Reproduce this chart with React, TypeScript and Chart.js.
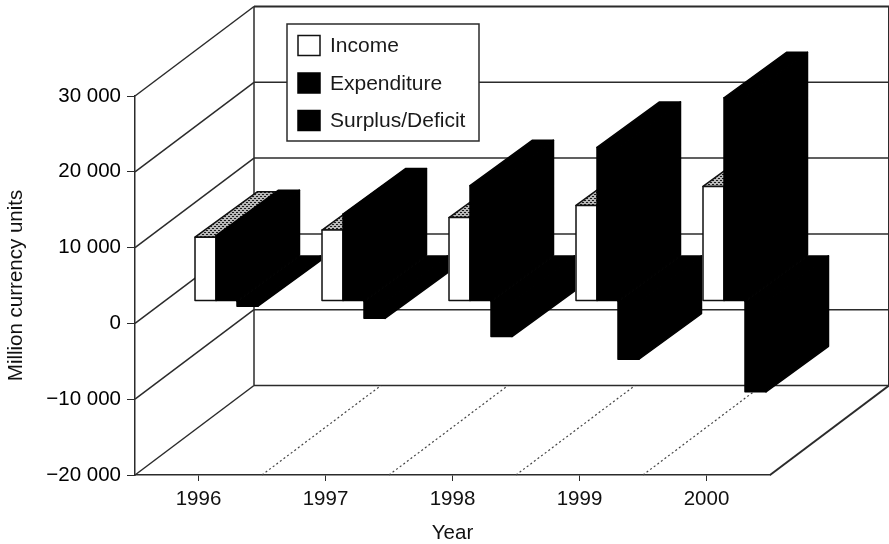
import { useEffect, useRef } from "react";
import { Chart, registerables } from "chart.js";

Chart.register(...registerables);

const years = ["1996", "1997", "1998", "1999", "2000"];
const income = [8400, 9350, 11000, 12600, 15100];
const expenditure = [8600, 11450, 15200, 20250, 26800];
const surplus = [-700, -2300, -4700, -7700, -12000];

const FONT = '"Liberation Sans", Arial, sans-serif';
const INK = "#2b2b2b";

// Perspective offsets of the box walls and of the bars standing inside the box.
const WALL_DEPTH = { x: 119, y: -89.5 };
const BAR_SHIFT = { x: 28, y: -22.5 };
const BAR_DEPTH = { x: 62.5, y: -45.5 };

function stipple(): CanvasPattern | string {
  const tile = document.createElement("canvas");
  tile.width = 4;
  tile.height = 4;
  const c = tile.getContext("2d");
  if (!c) return "#777";
  c.fillStyle = "#b8b8b8";
  c.fillRect(0, 0, 4, 4);
  c.fillStyle = "#1c1c1c";
  c.fillRect(0, 0, 2, 1);
  c.fillRect(2, 2, 2, 1);
  return c.createPattern(tile, "repeat") ?? "#777";
}

function polygon(ctx: CanvasRenderingContext2D, pts: number[][], fill: any, stroke?: string, width = 1.5) {
  ctx.beginPath();
  pts.forEach(([x, y], i) => (i ? ctx.lineTo(x, y) : ctx.moveTo(x, y)));
  ctx.closePath();
  ctx.fillStyle = fill;
  ctx.fill();
  if (stroke) {
    ctx.strokeStyle = stroke;
    ctx.lineWidth = width;
    ctx.stroke();
  }
}

function segment(ctx: CanvasRenderingContext2D, x1: number, y1: number, x2: number, y2: number, width = 1.5) {
  ctx.lineWidth = width;
  ctx.beginPath();
  ctx.moveTo(x1, y1);
  ctx.lineTo(x2, y2);
  ctx.stroke();
}

// Back wall, side wall and floor of the box, with gridlines taken from the scales.
const boxWalls = {
  id: "boxWalls",
  beforeDatasetsDraw(chart: any) {
    const { ctx, chartArea: a, scales } = chart;
    const d = WALL_DEPTH;
    ctx.save();
    ctx.strokeStyle = INK;
    ctx.lineCap = "butt";
    segment(ctx, a.left + d.x, a.top + d.y, a.left + d.x, a.bottom + d.y);
    segment(ctx, a.right + d.x - 0.5, a.top + d.y, a.right + d.x - 0.5, a.bottom + d.y, 1);
    segment(ctx, a.right, a.bottom, a.right + d.x, a.bottom + d.y, 2);
    scales.y.ticks.forEach((t: any) => {
      const y = scales.y.getPixelForValue(t.value);
      segment(ctx, a.left, y, a.left + d.x, y + d.y);
      const top = t.value === scales.y.max;
      segment(ctx, a.left + d.x, y + d.y, a.right + d.x, y + d.y, top ? 2 : 1.5);
    });
    ctx.setLineDash([2, 2.5]);
    ctx.strokeStyle = "#444";
    for (let i = 0; i < years.length - 1; i++) {
      const x = (scales.x.getPixelForValue(i) + scales.x.getPixelForValue(i + 1)) / 2;
      segment(ctx, x, a.bottom, x + d.x, a.bottom + d.y, 1.2);
    }
    ctx.restore();
  },
};

// Extrudes each bar rectangle computed by the bar controller into a solid box.
const extrudedBars = {
  id: "extrudedBars",
  beforeDatasetDraw() {
    return false;
  },
  afterDatasetsDraw(chart: any) {
    const { ctx } = chart;
    const pattern = stipple();
    const d = BAR_DEPTH;
    ctx.save();
    ctx.lineJoin = "round";
    years.forEach((_, i) => {
      chart.data.datasets.forEach((set: any, s: number) => {
        const el = chart.getDatasetMeta(s).data[i];
        const l = el.x - el.width / 2 + BAR_SHIFT.x;
        const r = el.x + el.width / 2 + BAR_SHIFT.x;
        const t = Math.min(el.y, el.base) + BAR_SHIFT.y;
        const b = Math.max(el.y, el.base) + BAR_SHIFT.y;
        // The stroke on the solid faces also closes the seams between them.
        const w = 1.5;
        polygon(ctx, [[r, t], [r + d.x, t + d.y], [r + d.x, b + d.y], [r, b]], "#000", set.borderColor, w);
        polygon(ctx, [[l, t], [l + d.x, t + d.y], [r + d.x, t + d.y], [r, t]], s === 0 ? pattern : "#000", set.borderColor, w);
        polygon(ctx, [[l, t], [r, t], [r, b], [l, b]], set.backgroundColor, set.borderColor, w);
      });
    });
    ctx.restore();
  },
};

// Key panel on the back wall, listing the datasets.
const keyPanel = {
  id: "keyPanel",
  afterDraw(chart: any) {
    const { ctx } = chart;
    ctx.save();
    polygon(ctx, [[287, 24], [479, 24], [479, 141], [287, 141]], "#fff", INK);
    ctx.font = `21px ${FONT}`;
    ctx.textBaseline = "middle";
    ctx.textAlign = "left";
    chart.data.datasets.forEach((set: any, s: number) => {
      const y = 35.5 + s * 37.5;
      polygon(ctx, [[298, y], [320, y], [320, y + 20], [298, y + 20]], set.backgroundColor, set.borderColor);
      ctx.fillStyle = "#1a1a1a";
      ctx.fillText(set.label, 330, y + 11);
    });
    ctx.restore();
  },
};

const formatTick = (v: number) => {
  const n = Math.abs(v);
  const text = n >= 1000 ? `${Math.floor(n / 1000)} ${String(n % 1000).padStart(3, "0")}` : String(n);
  return v < 0 ? `\u2212${text}` : text;
};

export default function App() {
  const ref = useRef<HTMLCanvasElement>(null);

  useEffect(() => {
    document.body.style.margin = "0";
    document.body.style.background = "#fff";
    const axisFont = { family: FONT, size: 20.5 };
    const titleFont = { family: FONT, size: 20.5, lineHeight: 1 };
    const chart = new Chart(ref.current as HTMLCanvasElement, {
      type: "bar",
      data: {
        labels: years,
        datasets: [
          { label: "Income", data: income, backgroundColor: "#ffffff", borderColor: "#111" },
          { label: "Expenditure", data: expenditure, backgroundColor: "#000000", borderColor: "#000" },
          { label: "Surplus/Deficit", data: surplus, backgroundColor: "#000000", borderColor: "#000" },
        ],
      },
      plugins: [boxWalls, extrudedBars, keyPanel],
      options: {
        responsive: false,
        animation: false,
        events: [],
        layout: { padding: { top: 96, right: 119, left: 0, bottom: 0 } },
        datasets: { bar: { categoryPercentage: 0.496, barPercentage: 1 } },
        plugins: { legend: { display: false }, tooltip: { enabled: false } },
        scales: {
          x: {
            afterFit(scale: any) {
              scale.height = 69;
            },
            border: { color: INK, width: 1.5 },
            grid: { drawOnChartArea: false, drawTicks: true, tickLength: 6, color: INK, offset: false },
            ticks: { color: "#111", font: axisFont, padding: 6, maxRotation: 0 },
            title: { display: true, text: "Year", color: "#111", font: titleFont, padding: 0 },
          },
          y: {
            min: -20000,
            max: 30000,
            afterFit(scale: any) {
              scale.width = 135;
            },
            border: { color: INK, width: 1.5 },
            grid: { drawOnChartArea: false, drawTicks: true, tickLength: 8, color: INK },
            ticks: { stepSize: 10000, color: "#000", font: axisFont, padding: 6, callback: (v: any) => formatTick(Number(v)) },
            title: { display: true, text: "Million currency units", color: "#111", font: titleFont, padding: { top: 6, bottom: 0 } },
          },
        },
      },
    } as any);
    return () => chart.destroy();
  }, []);

  return <canvas ref={ref} width={889} height={544} style={{ display: "block" }} />;
}
